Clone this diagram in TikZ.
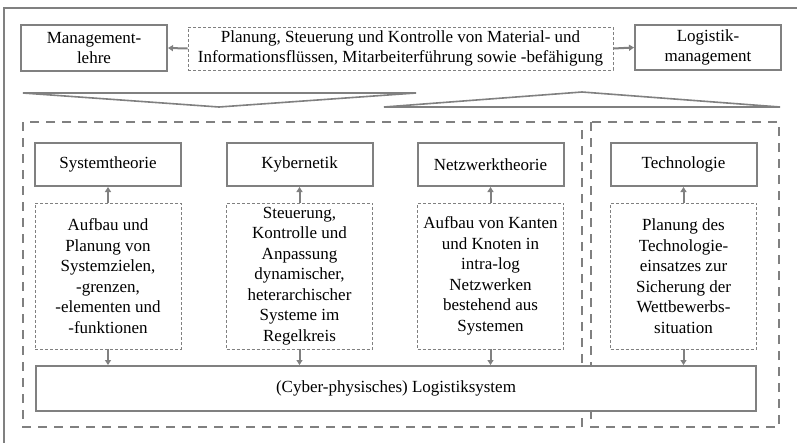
\documentclass[tikz,border=0pt]{standalone}
\usepackage{fontspec}
\setmainfont{Liberation Serif}
\usetikzlibrary{arrows.meta}
\definecolor{lg}{HTML}{808080}
\tikzset{
  txt/.style={font=\fontsize{17}{20.5}\selectfont, align=center, text=black, inner sep=0pt},
  solidbox/.style={txt, draw=lg, fill=white, line width=2pt, rectangle},
  thinbox/.style={txt, draw=lg, fill=white, line width=0.9pt, dash pattern=on 3pt off 2pt, rectangle},
  bigdash/.style={draw=lg, line width=2.5pt, dash pattern=on 9pt off 7pt},
  conn/.style={draw=lg, line width=2pt, -{Triangle[length=5pt,width=6pt]}},
  chev/.style={draw=lg, line width=1.6pt, line join=miter},
}
\begin{document}
\begin{tikzpicture}[x=1pt,y=-1pt]
\useasboundingbox (0,0) rectangle (797,442);
\fill[white] (0,0) rectangle (797,442);
% outer frame (cropped)
\draw[lg, line width=2pt] (4,450) -- (4,8) -- (805,8);
% top row
\node[solidbox, minimum width=146pt, minimum height=46pt] (mgmt) at (94,48) {Management-\\lehre};
\node[thinbox, minimum width=425pt, minimum height=43pt] (plan) at (400.5,48.5) {Planung, Steuerung und Kontrolle von Material- und\\Informationsflüssen, Mitarbeiterführung sowie -befähigung};
\node[solidbox, minimum width=146pt, minimum height=45pt] (logm) at (708,47.5) {Logistik-\\management};
\draw[conn] (plan.west) -- (mgmt.east);
\draw[conn] (plan.east) -- (logm.west);
% chevrons
\draw[chev] (23,93) -- (416,93) -- (219,107) -- cycle;
\draw[chev] (384,107) -- (780,107) -- (582,92) -- cycle;
% big dashed regions
\draw[bigdash] (23,122) rectangle (582,427);
\draw[bigdash] (591,122) rectangle (779,427);
% top boxes
\node[solidbox, minimum width=146pt, minimum height=43pt] (sys) at (108,164.5) {Systemtheorie};
\node[solidbox, minimum width=146pt, minimum height=43pt] (kyb) at (299.5,164.5) {Kybernetik};
\node[solidbox, minimum width=146pt, minimum height=43pt] (net) at (490.5,164.5) {Netzwerktheorie};
\node[solidbox, minimum width=146pt, minimum height=43pt] (tech) at (683.5,164.5) {Technologie};
% descriptions
\node[thinbox, minimum width=146pt, minimum height=146pt] (dsys) at (108,276) {Aufbau und\\Planung von\\Systemzielen,\\-grenzen,\\-elementen und\\-funktionen};
\node[thinbox, minimum width=146pt, minimum height=146pt] (dkyb) at (299.5,276) {Steuerung,\\Kontrolle und\\Anpassung\\dynamischer,\\heterarchischer\\Systeme im\\Regelkreis};
\node[thinbox, minimum width=146pt, minimum height=146pt] (dnet) at (490.5,276) {Aufbau von Kanten\\und Knoten in\\intra-log\\Netzwerken\\bestehend aus\\Systemen};
\node[thinbox, minimum width=146pt, minimum height=146pt] (dtech) at (683.5,276) {Planung des\\Technologie-\\einsatzes zur\\Sicherung der\\Wettbewerbs-\\situation};
% bottom box
\node[solidbox, minimum width=720pt, minimum height=45pt] (cps) at (396,388.5) {(Cyber-physisches) Logistiksystem};
% arrows
\foreach \d/\t in {dsys/sys, dkyb/kyb, dnet/net, dtech/tech}{
  \draw[conn] (\d.north) -- (\t.south);
  \draw[conn] (\d.south) -- (\d.south |- cps.north);
}
\end{tikzpicture}
\end{document}
